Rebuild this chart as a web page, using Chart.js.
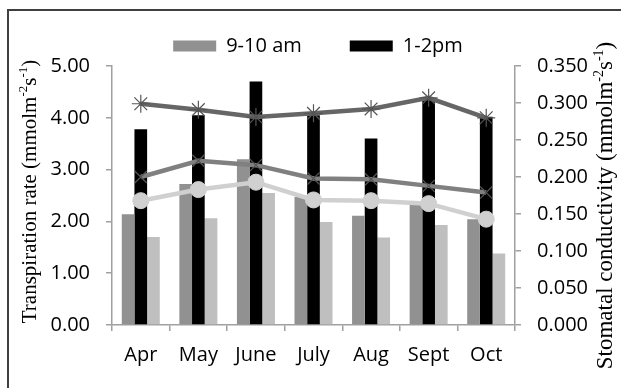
<!DOCTYPE html>
<html>
<head>
<meta charset="utf-8">
<script src="https://cdn.jsdelivr.net/npm/chart.js@4.4.1/dist/chart.umd.min.js"></script>
<style>
  html, body { margin: 0; padding: 0; background: #ffffff; }
  #wrap { width: 621px; height: 388px; position: relative; }
</style>
</head>
<body>
<div id="wrap"><canvas id="chart" width="621" height="388"></canvas></div>
<script>
// Monthly transpiration (bars, left axis) and stomatal conductivity (lines, right axis)
const months = ['Apr', 'May', 'June', 'July', 'Aug', 'Sept', 'Oct'];

const transpirationMorning = [2.14, 2.72, 3.20, 2.47, 2.11, 2.32, 2.04];
const transpirationNoon    = [3.78, 4.05, 4.70, 4.05, 3.60, 4.38, 4.02];
const transpirationLate    = [1.70, 2.06, 2.55, 1.99, 1.69, 1.93, 1.38];

const conductivityNoon    = [0.299, 0.291, 0.281, 0.286, 0.292, 0.307, 0.280];
const conductivityMorning = [0.200, 0.222, 0.216, 0.198, 0.197, 0.188, 0.179];
const conductivityLate    = [0.168, 0.183, 0.193, 0.169, 0.168, 0.164, 0.143];

const leftTickValues  = [0, 1, 2, 3, 4, 5];
const rightTickValues = [0, 0.05, 0.10, 0.15, 0.20, 0.25, 0.30, 0.35];

const tickFont = { family: 'Open Sans', size: 20 };
const axisGray = '#a0a0a0';

// Rotated axis title with raised superscripts
function drawRotatedTitle(ctx, parts, cx, cy, size) {
  const supSize = Math.round(size * 0.62);
  ctx.save();
  let total = 0;
  const widths = parts.map(p => {
    ctx.font = (p.sup ? supSize : size) + 'px "Liberation Serif"';
    const w = ctx.measureText(p.t).width;
    total += w;
    return w;
  });
  ctx.translate(cx, cy);
  ctx.rotate(-Math.PI / 2);
  ctx.fillStyle = '#000000';
  ctx.textBaseline = 'alphabetic';
  let x = -total / 2;
  const base = size * 0.32;
  parts.forEach((p, i) => {
    ctx.font = (p.sup ? supSize : size) + 'px "Liberation Serif"';
    ctx.fillText(p.t, x, p.sup ? base - size * 0.42 : base);
    x += widths[i];
  });
  ctx.restore();
}

const decorations = {
  id: 'decorations',
  beforeDraw(chart) {
    const ctx = chart.ctx;
    ctx.save();
    ctx.strokeStyle = '#404040';
    ctx.lineWidth = 2;
    ctx.beginPath();
    ctx.moveTo(8, 388);
    ctx.lineTo(8, 10);
    ctx.lineTo(621, 10);
    ctx.stroke();
    ctx.restore();
  },
  afterDraw(chart) {
    const ctx = chart.ctx;
    const area = chart.chartArea;
    const midY = (area.top + area.bottom) / 2;
    drawRotatedTitle(ctx, [
      { t: 'Transpiration rate (mmolm' }, { t: '-2', sup: true },
      { t: 's' }, { t: '-1', sup: true }, { t: ')' }
    ], 29, midY - 4, 21);
    drawRotatedTitle(ctx, [
      { t: 'Stomatal conductivity (mmolm' }, { t: '-2', sup: true },
      { t: 's' }, { t: '-1', sup: true }, { t: ')' }
    ], 605, midY + 10, 23);
  }
};

new Chart(document.getElementById('chart'), {
  type: 'bar',
  data: {
    labels: months,
    datasets: [
      { type: 'bar', label: '9-10 am', data: transpirationMorning, backgroundColor: '#919191', yAxisID: 'y', order: 1 },
      { type: 'bar', label: '1-2pm', data: transpirationNoon, backgroundColor: '#000000', yAxisID: 'y', order: 1 },
      { type: 'bar', label: '4-5 pm', data: transpirationLate, backgroundColor: '#bfbfbf', yAxisID: 'y', order: 1 },
      {
        type: 'line', label: 'Conductivity 1-2pm', data: conductivityNoon, yAxisID: 'y2', order: 0,
        borderColor: '#666666', borderWidth: 4.5, tension: 0,
        pointStyle: 'star', pointRadius: 9, pointBorderColor: '#555555', pointBorderWidth: 1.2,
        pointBackgroundColor: '#555555'
      },
      {
        type: 'line', label: 'Conductivity 9-10 am', data: conductivityMorning, yAxisID: 'y2', order: 0,
        borderColor: '#808080', borderWidth: 4.5, tension: 0,
        pointStyle: 'crossRot', pointRadius: 8.5, pointBorderColor: '#555555', pointBorderWidth: 1.2,
        pointBackgroundColor: '#555555'
      },
      {
        type: 'line', label: 'Conductivity 4-5 pm', data: conductivityLate, yAxisID: 'y2', order: 0,
        borderColor: '#d0d0d0', borderWidth: 4.5, tension: 0,
        pointStyle: 'circle', pointRadius: 8, pointBorderColor: '#d0d0d0', pointBorderWidth: 1,
        pointBackgroundColor: '#d0d0d0'
      }
    ]
  },
  options: {
    responsive: false,
    animation: false,
    devicePixelRatio: 1,
    layout: { padding: { left: 15, right: 0, top: -12, bottom: 0 } },
    datasets: { bar: { categoryPercentage: 0.66, barPercentage: 1.0, borderWidth: 0 } },
    plugins: {
      tooltip: { enabled: false },
      legend: {
        position: 'top',
        labels: {
          filter: item => item.datasetIndex < 2,
          boxWidth: 43,
          boxHeight: 11,
          padding: 48,
          color: '#000000',
          font: { family: 'Open Sans', size: 20 }
        }
      }
    },
    scales: {
      x: {
        offset: true,
        grid: { display: true, drawOnChartArea: false, offset: true, tickLength: 6, color: axisGray, lineWidth: 1.5 },
        border: { display: true, color: axisGray, width: 1.5 },
        ticks: { color: '#000000', font: tickFont, padding: 12, maxRotation: 0 },
        afterFit(scale) { scale.height = 63; }
      },
      y: {
        position: 'left',
        min: 0, max: 5,
        afterBuildTicks(scale) { scale.ticks = leftTickValues.map(v => ({ value: v })); },
        grid: { drawOnChartArea: false, tickLength: 6, color: axisGray, lineWidth: 1.5 },
        border: { display: true, color: axisGray, width: 1.5 },
        ticks: { color: '#000000', font: tickFont, padding: 16, callback: v => Number(v).toFixed(2) },
        afterFit(scale) { scale.width = 97; }
      },
      y2: {
        position: 'right',
        min: 0, max: 0.35,
        afterBuildTicks(scale) { scale.ticks = rightTickValues.map(v => ({ value: v })); },
        grid: { drawOnChartArea: false, tickLength: 6, color: axisGray, lineWidth: 1.5 },
        border: { display: true, color: axisGray, width: 1.5 },
        ticks: { color: '#000000', font: tickFont, padding: 16, callback: v => Number(v).toFixed(3) },
        afterFit(scale) { scale.width = 106; }
      }
    }
  },
  plugins: [decorations]
});
</script>
</body>
</html>
